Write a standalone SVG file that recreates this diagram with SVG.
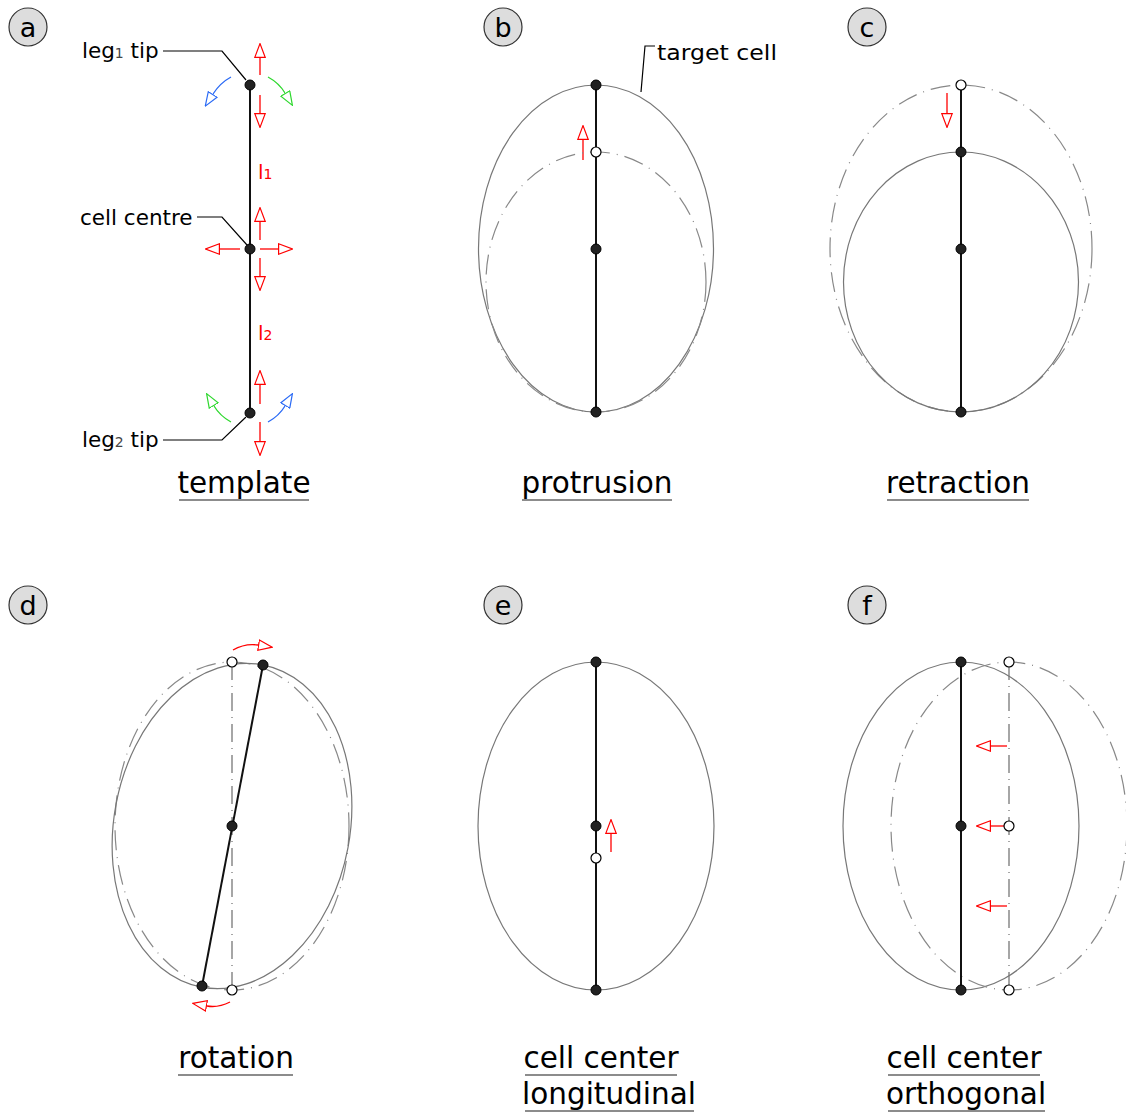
<svg xmlns="http://www.w3.org/2000/svg" width="1126" height="1114" viewBox="0 0 1126 1114">
<style>
text{font-family:"DejaVu Sans","Liberation Sans",sans-serif;fill:#000}
.badge circle{fill:#ddd;stroke:#333;stroke-width:1.2}
.badge text{font-size:27px;text-anchor:middle}
.title{font-size:29.5px;text-anchor:middle}
.ul{stroke:#666;stroke-width:1.5}
.lbl{font-size:21.5px}
.lead{stroke:#000;stroke-width:1.2;fill:none}
.cell{fill:none;stroke:#777;stroke-width:1.2}
.ghost{fill:none;stroke:#888;stroke-width:1.2;stroke-dasharray:20 7 1 7}
.axis{stroke:#111;stroke-width:2}
.gaxis{stroke:#777;stroke-width:1.3;stroke-dasharray:18 6 1 6}
.fn{fill:#222;stroke:#000;stroke-width:1}
.hn{fill:#fff;stroke:#000;stroke-width:1.2}
.ra{stroke:#f00;stroke-width:1.3;fill:none;marker-end:url(#mr)}
.ba{stroke:#2a6af5;stroke-width:1.3;fill:none;marker-end:url(#mb)}
.ga{stroke:#2ed82e;stroke-width:1.3;fill:none;marker-end:url(#mg)}
.sym{fill:#f00;font-size:20px}
</style>
<defs>
<marker id="mr" viewBox="0 0 15 12" refX="0" refY="6" markerWidth="15" markerHeight="12" markerUnits="userSpaceOnUse" orient="auto"><path d="M0.6,0.8 L14.4,6 L0.6,11.2 Z" fill="#fff" stroke="#f00" stroke-width="1.2"/></marker>
<marker id="mb" viewBox="0 0 15 12" refX="0" refY="6" markerWidth="15" markerHeight="12" markerUnits="userSpaceOnUse" orient="auto"><path d="M0.6,0.8 L14.4,6 L0.6,11.2 Z" fill="#fff" stroke="#2a6af5" stroke-width="1.2"/></marker>
<marker id="mg" viewBox="0 0 15 12" refX="0" refY="6" markerWidth="15" markerHeight="12" markerUnits="userSpaceOnUse" orient="auto"><path d="M0.6,0.8 L14.4,6 L0.6,11.2 Z" fill="#fff" stroke="#2ed82e" stroke-width="1.2"/></marker>
</defs>

<!-- badges -->
<g id="badge-a" class="badge"><circle cx="28" cy="27" r="19"/><text x="28" y="37">a</text></g>
<g id="badge-b" class="badge"><circle cx="503" cy="27" r="19"/><text x="503" y="37">b</text></g>
<g id="badge-c" class="badge"><circle cx="867" cy="27" r="19"/><text x="867" y="37">c</text></g>
<g id="badge-d" class="badge"><circle cx="28" cy="605" r="19"/><text x="28" y="615">d</text></g>
<g id="badge-e" class="badge"><circle cx="503" cy="605" r="19"/><text x="503" y="615">e</text></g>
<g id="badge-f" class="badge"><circle cx="867" cy="605" r="19"/><text x="867" y="615">f</text></g>

<!-- titles -->
<g id="titles">
<text class="title" x="244" y="493">template</text><line class="ul" x1="179" y1="500" x2="309" y2="500"/>
<text class="title" x="597" y="493">protrusion</text><line class="ul" x1="522" y1="500" x2="672" y2="500"/>
<text class="title" x="958" y="493">retraction</text><line class="ul" x1="887" y1="500" x2="1029" y2="500"/>
<text class="title" x="236" y="1068">rotation</text><line class="ul" x1="178" y1="1075" x2="293" y2="1075"/>
<text class="title" x="601" y="1068">cell center</text><line class="ul" x1="525" y1="1075" x2="677" y2="1075"/>
<text class="title" x="609" y="1104">longitudinal</text><line class="ul" x1="525" y1="1111" x2="694" y2="1111"/>
<text class="title" x="964" y="1068">cell center</text><line class="ul" x1="888" y1="1075" x2="1040" y2="1075"/>
<text class="title" x="966" y="1104">orthogonal</text><line class="ul" x1="888" y1="1111" x2="1045" y2="1111"/>
</g>

<!-- panel a -->
<g id="panel-a">
<line class="axis" x1="250" y1="85" x2="250" y2="413"/>
<circle class="fn" cx="250" cy="85" r="5"/>
<circle class="fn" cx="250" cy="249" r="5"/>
<circle class="fn" cx="250" cy="413" r="5"/>
<text class="lbl" x="82" y="58">leg<tspan font-size="14" fill="#444">1</tspan> tip</text>
<polyline class="lead" points="163,51 222,51 246,80"/>
<text class="lbl" x="80" y="225">cell centre</text>
<polyline class="lead" points="197,217 222,217 247,245"/>
<text class="lbl" x="82" y="447">leg<tspan font-size="14" fill="#444">2</tspan> tip</text>
<polyline class="lead" points="163,440 222,440 246,417"/>
<text class="sym" x="258" y="179">l<tspan font-size="14">1</tspan></text>
<text class="sym" x="258" y="340">l<tspan font-size="14">2</tspan></text>
</g>

<g id="connectors">
<!-- panel a arrows -->
<line class="ra" x1="260" y1="75" x2="260" y2="58"/>
<line class="ra" x1="260" y1="95" x2="260" y2="113"/>
<line class="ra" x1="260" y1="240" x2="260" y2="222"/>
<line class="ra" x1="260" y1="258" x2="260" y2="276"/>
<line class="ra" x1="240" y1="249" x2="220" y2="249"/>
<line class="ra" x1="260" y1="249" x2="278" y2="249"/>
<line class="ra" x1="260" y1="404" x2="260" y2="385"/>
<line class="ra" x1="260" y1="422" x2="260" y2="441"/>
<path class="ba" d="M231,77 Q220,83 213,94"/>
<path class="ga" d="M268,77 Q279,83 285,93"/>
<path class="ga" d="M231,422 Q220,416 214,406"/>
<path class="ba" d="M268,422 Q279,416 285,406"/>

<!-- panel b -->
<polyline class="lead" points="655,46 645,46 641,92"/>
<line class="ra" x1="583" y1="160" x2="583" y2="140"/>
<!-- panel c -->
<line class="ra" x1="947" y1="93" x2="947" y2="113"/>
<!-- panel d -->
<path class="ra" d="M233,650 Q245,643 258,645"/>
<path class="ra" d="M230,1002 Q218,1008 207,1006"/>
<!-- panel e -->
<line class="ra" x1="611" y1="852" x2="611" y2="834"/>
<!-- panel f -->
<line class="ra" x1="1007" y1="746" x2="991" y2="746"/>
<line class="ra" x1="1007" y1="826" x2="991" y2="826"/>
<line class="ra" x1="1007" y1="906" x2="991" y2="906"/>
</g>

<!-- panel b -->
<g id="panel-b">
<ellipse class="cell" cx="596" cy="248.5" rx="117.5" ry="163.5"/>
<ellipse class="ghost" cx="596" cy="282" rx="110" ry="130"/>
<line class="axis" x1="596" y1="85" x2="596" y2="412"/>
<circle class="fn" cx="596" cy="85" r="5"/>
<circle class="hn" cx="596" cy="152" r="5"/>
<circle class="fn" cx="596" cy="249" r="5"/>
<circle class="fn" cx="596" cy="412" r="5"/>
<text class="lbl" x="657" y="60" font-size="24" textLength="120" lengthAdjust="spacingAndGlyphs">target cell</text>
</g>

<!-- panel c -->
<g id="panel-c">
<ellipse class="ghost" cx="961" cy="248.5" rx="131" ry="163.5"/>
<ellipse class="cell" cx="961" cy="282" rx="117.5" ry="130"/>
<line class="axis" x1="961" y1="85" x2="961" y2="412"/>
<circle class="hn" cx="961" cy="85" r="5"/>
<circle class="fn" cx="961" cy="152" r="5"/>
<circle class="fn" cx="961" cy="249" r="5"/>
<circle class="fn" cx="961" cy="412" r="5"/>
</g>

<!-- panel d -->
<g id="panel-d">
<ellipse class="ghost" cx="232" cy="826" rx="117" ry="164"/>
<ellipse class="cell" cx="232" cy="826" rx="118" ry="164" transform="rotate(10.7 232 826)"/>
<line class="gaxis" x1="232" y1="662" x2="232" y2="990"/>
<line class="axis" x1="263" y1="665" x2="202" y2="986"/>
<circle class="hn" cx="232" cy="662" r="5"/>
<circle class="hn" cx="232" cy="990" r="5"/>
<circle class="fn" cx="263" cy="665" r="5"/>
<circle class="fn" cx="232" cy="826" r="5"/>
<circle class="fn" cx="202" cy="986" r="5"/>
</g>

<!-- panel e -->
<g id="panel-e">
<ellipse class="cell" cx="596" cy="826" rx="118" ry="164"/>
<line class="axis" x1="596" y1="662" x2="596" y2="990"/>
<circle class="fn" cx="596" cy="662" r="5"/>
<circle class="fn" cx="596" cy="826" r="5"/>
<circle class="hn" cx="596" cy="858" r="5"/>
<circle class="fn" cx="596" cy="990" r="5"/>
</g>

<!-- panel f -->
<g id="panel-f">
<ellipse class="cell" cx="961" cy="826" rx="118" ry="164"/>
<ellipse class="ghost" cx="1009" cy="826" rx="118" ry="164"/>
<line class="axis" x1="961" y1="662" x2="961" y2="990"/>
<line class="gaxis" x1="1009" y1="662" x2="1009" y2="990"/>
<circle class="fn" cx="961" cy="662" r="5"/>
<circle class="fn" cx="961" cy="826" r="5"/>
<circle class="fn" cx="961" cy="990" r="5"/>
<circle class="hn" cx="1009" cy="662" r="5"/>
<circle class="hn" cx="1009" cy="826" r="5"/>
<circle class="hn" cx="1009" cy="990" r="5"/>
</g>
</svg>
